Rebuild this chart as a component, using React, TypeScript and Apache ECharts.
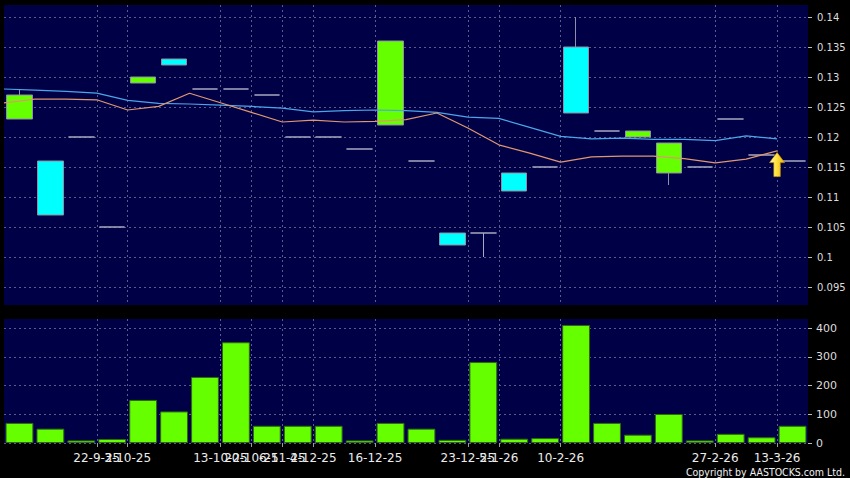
import React, { useEffect, useRef } from 'react';
import * as echarts from 'echarts';

// 26 trading sessions (candles / volume bars)
const sessionIds = ['1','2','3','4','5','6','7','8','9','10','11','12','13','14','15','16','17','18','19','20','21','22','23','24','25','26'];

// labels sitting on the boundaries between sessions (27 boundaries)
const boundaryLabels = ['', '', '', '22-9-25', '3-10-25', '', '', '13-10-25', '20-10-25', '6-11-25', '4-12-25', '', '16-12-25', '', '', '23-12-25', '5-1-26', '', '10-2-26', '', '', '', '', '27-2-26', '', '13-3-26', ''];
const boundaryIds = ['0','1','2','3','4','5','6','7','8','9','10','11','12','13','14','15','16','17','18','19','20','21','22','23','24','25','26'];

const opens  = [0.123, 0.116, 0.12, 0.105, 0.129, 0.133, 0.128, 0.128, 0.127, 0.12, 0.12, 0.118, 0.122, 0.116, 0.104, 0.104, 0.114, 0.115, 0.135, 0.121, 0.12, 0.114, 0.115, 0.123, 0.117, 0.116];
const closes = [0.127, 0.107, 0.12, 0.105, 0.13, 0.132, 0.128, 0.128, 0.127, 0.12, 0.12, 0.118, 0.136, 0.116, 0.102, 0.104, 0.111, 0.115, 0.124, 0.121, 0.121, 0.119, 0.115, 0.123, 0.117, 0.116];
const lows   = [0.123, 0.107, 0.12, 0.105, 0.129, 0.132, 0.128, 0.128, 0.127, 0.12, 0.12, 0.118, 0.122, 0.116, 0.102, 0.1, 0.111, 0.115, 0.124, 0.121, 0.12, 0.112, 0.115, 0.123, 0.117, 0.116];
const highs  = [0.128, 0.116, 0.12, 0.105, 0.13, 0.133, 0.128, 0.128, 0.127, 0.12, 0.12, 0.118, 0.136, 0.116, 0.104, 0.104, 0.114, 0.115, 0.14, 0.121, 0.121, 0.119, 0.115, 0.123, 0.117, 0.116];

const volumes = [70, 50, 9, 14, 150, 110, 230, 351, 60, 60, 60, 9, 70, 50, 11, 282, 15, 17, 411, 70, 29, 101, 9, 32, 20, 60];

// moving averages, plotted on the session boundaries 0..25
const maShort = [0.1257, 0.1263, 0.1263, 0.1262, 0.1245, 0.1251, 0.1273, 0.1257, 0.1241, 0.1225, 0.1228, 0.1225, 0.1226, 0.1229, 0.124, 0.1215, 0.1187, 0.1173, 0.1158, 0.1167, 0.1168, 0.1168, 0.1164, 0.1157, 0.1163, 0.1177];
const maLong  = [0.128, 0.1278, 0.1276, 0.1273, 0.1261, 0.1256, 0.1255, 0.1253, 0.1251, 0.1248, 0.1242, 0.1244, 0.1245, 0.1244, 0.1241, 0.1233, 0.1231, 0.1216, 0.1201, 0.1197, 0.1198, 0.1196, 0.1196, 0.1194, 0.1202, 0.1197];

const priceTicks = [0.095, 0.1, 0.105, 0.11, 0.115, 0.12, 0.125, 0.13, 0.135, 0.14];
const volumeTicks = [0, 100, 200, 300, 400];

const arrowBoundary = 25;
const arrowValue = 0.1154;

const GRID_LINE = '#5a5a8c';
const NAVY = '#000046';

export default function App() {
  const ref = useRef<HTMLDivElement>(null);
  useEffect(() => {
    if (!ref.current) return;
    const chart = echarts.init(ref.current, null, { renderer: 'svg' });
    const showBoundary = (i: number) => boundaryLabels[i] !== '';
    const splitStyle = { color: GRID_LINE, type: [2, 3] as any, width: 1 };
    const candleData = opens.map((o, i) => [o, closes[i], lows[i], highs[i]]);
    chart.setOption({
      animation: false,
      backgroundColor: '#000000',
      textStyle: { fontFamily: 'DejaVu Sans' },
      grid: [
        { left: 4, right: 42, top: 5, height: 300, show: true, backgroundColor: NAVY, borderWidth: 0 },
        { left: 4, right: 42, top: 319, height: 124, show: true, backgroundColor: NAVY, borderWidth: 0 },
      ],
      xAxis: [
        { type: 'category', gridIndex: 0, position: 'bottom', data: sessionIds, boundaryGap: true, show: false },
        {
          type: 'category', gridIndex: 0, position: 'bottom', data: boundaryIds, boundaryGap: false,
          axisLine: { show: false }, axisTick: { show: false }, axisLabel: { show: false },
          splitLine: { show: true, interval: (i: number) => showBoundary(i), lineStyle: splitStyle },
        },
        { type: 'category', gridIndex: 1, position: 'bottom', data: sessionIds, boundaryGap: true, show: false },
        {
          type: 'category', gridIndex: 1, position: 'bottom', data: boundaryIds, boundaryGap: false,
          axisLine: { show: false },
          axisTick: { show: true, interval: (i: number) => showBoundary(i), length: 4, lineStyle: { color: '#9a9a9a' } },
          axisLabel: {
            show: true, interval: 0, margin: 9, hideOverlap: false,
            formatter: (v: string) => boundaryLabels[Number(v)], color: '#ececec', fontSize: 12,
          },
          splitLine: { show: true, interval: (i: number) => showBoundary(i), lineStyle: splitStyle },
        },
      ],
      yAxis: [
        {
          type: 'value', gridIndex: 0, position: 'right', min: 0.092, max: 0.142, interval: 0.005,
          axisLine: { show: false },
          axisTick: { show: true, length: 4, customValues: priceTicks, lineStyle: { color: '#bbbbbb' } },
          axisLabel: { customValues: priceTicks, color: '#dddddd', fontSize: 10, margin: 9, formatter: (v: number) => String(+v.toFixed(3)) },
          splitLine: { show: true, lineStyle: splitStyle },
        },
        {
          type: 'value', gridIndex: 1, position: 'right', min: 0, max: 432, interval: 100,
          axisLine: { show: false },
          axisTick: { show: true, length: 4, customValues: volumeTicks, lineStyle: { color: '#bbbbbb' } },
          axisLabel: { customValues: volumeTicks, color: '#dddddd', fontSize: 11, margin: 8 },
          splitLine: { show: true, lineStyle: splitStyle },
        },
      ],
      series: [
        {
          type: 'candlestick', xAxisIndex: 0, yAxisIndex: 0, data: candleData, barWidth: 26,
          itemStyle: {
            color: '#66ff00', color0: '#00ffff',
            borderColor: '#8f8fa8', borderColor0: '#8f8fa8', borderColorDoji: '#a8a8c0', borderWidth: 1,
          },
          z: 3,
        },
        {
          type: 'line', xAxisIndex: 1, yAxisIndex: 0, data: maLong, symbol: 'none',
          lineStyle: { color: '#4aa6e8', width: 1.2 }, z: 4,
        },
        {
          type: 'line', xAxisIndex: 1, yAxisIndex: 0, data: maShort, symbol: 'none',
          lineStyle: { color: '#e0976e', width: 1.2 }, z: 4,
        },
        {
          type: 'scatter', xAxisIndex: 1, yAxisIndex: 0, data: [[arrowBoundary, arrowValue]],
          symbol: 'path://M7 0 L14 10 L10 10 L10 24 L4 24 L4 10 L0 10 Z', symbolSize: [15, 24],
          itemStyle: {
            opacity: 1,
            color: new echarts.graphic.LinearGradient(0, 0, 1, 0, [
              { offset: 0, color: '#fffbd0' }, { offset: 0.4, color: '#ffe84a' }, { offset: 1, color: '#f2b000' },
            ]),
            borderColor: '#d89a00', borderWidth: 0.6,
          },
          z: 6,
        },
        {
          type: 'bar', xAxisIndex: 2, yAxisIndex: 1, data: volumes, barCategoryGap: '10%',
          itemStyle: { color: '#66ff00', borderColor: '#2c6a12', borderWidth: 1 },
        },
      ],
      graphic: [
        {
          type: 'text', right: 5, top: 466,
          style: { text: 'Copyright by AASTOCKS.com Ltd.', fill: '#f0f0f0', font: '10.5px "DejaVu Sans Condensed", "DejaVu Sans"' },
        },
      ],
    });
    return () => chart.dispose();
  }, []);
  return <div ref={ref} style={{ position: 'fixed', left: 0, top: 0, width: 850, height: 478 }} />;
}
